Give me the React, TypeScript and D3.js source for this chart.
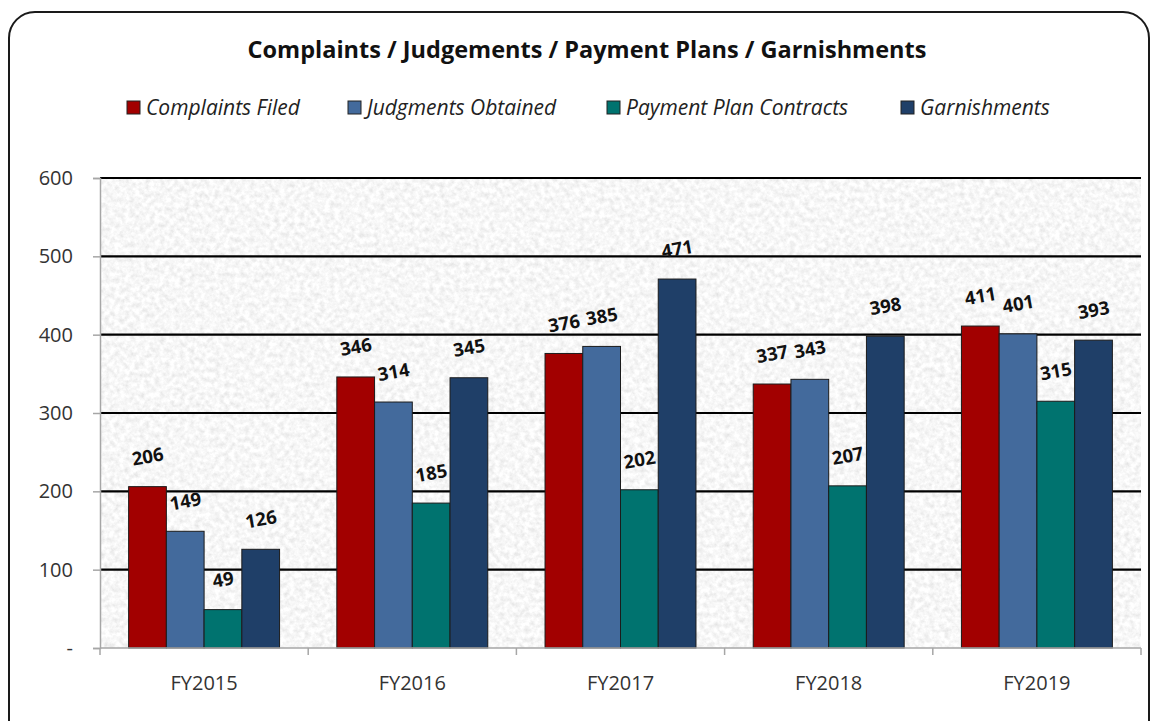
import React, { useEffect, useRef } from 'react';
import * as d3 from 'd3';

const years = ['FY2015', 'FY2016', 'FY2017', 'FY2018', 'FY2019'];
const seriesNames = ['Complaints Filed', 'Judgments Obtained', 'Payment Plan Contracts', 'Garnishments'];
const seriesColors = ['#a20000', '#436a9c', '#00736f', '#1f3f68'];
const complaints = [206, 346, 376, 337, 411];
const judgments = [149, 314, 385, 343, 401];
const paymentPlans = [49, 185, 202, 207, 315];
const garnishments = [126, 345, 471, 398, 393];
const yTicks = [0, 100, 200, 300, 400, 500, 600];

const W = 1158;
const H = 721;
const FONT = '"Open Sans", "Noto Sans", sans-serif';

const App: React.FC = () => {
  const svgRef = useRef<SVGSVGElement>(null);

  useEffect(() => {
    document.body.style.margin = '0';
    if (!svgRef.current) return;
    const el = svgRef.current;
    d3.select(el).selectAll('*').remove();
    const svg = d3.select(el);

    const margin = { top: 178, right: 17, bottom: 73, left: 100 };
    const width = W - margin.left - margin.right;
    const height = H - margin.top - margin.bottom;

    // Granite-like texture for the plot area
    const defs = svg.append('defs');
    const filter = defs
      .append('filter')
      .attr('id', 'granite')
      .attr('x', 0)
      .attr('y', 0)
      .attr('width', '100%')
      .attr('height', '100%');
    filter
      .append('feTurbulence')
      .attr('type', 'fractalNoise')
      .attr('baseFrequency', 0.2)
      .attr('numOctaves', 4)
      .attr('seed', 7)
      .attr('result', 'noise');
    filter
      .append('feColorMatrix')
      .attr('in', 'noise')
      .attr('type', 'matrix')
      .attr('values', '0.38 0 0 0 0.74  0.38 0 0 0 0.74  0.38 0 0 0 0.74  0 0 0 0 1');

    // Outer frame
    svg
      .append('rect')
      .attr('x', 9)
      .attr('y', 12)
      .attr('width', 1140)
      .attr('height', 740)
      .attr('rx', 26)
      .attr('fill', '#fff')
      .attr('stroke', '#1a1a1a')
      .attr('stroke-width', 2);

    svg
      .append('text')
      .attr('x', 587)
      .attr('y', 58)
      .attr('text-anchor', 'middle')
      .attr('font-family', FONT)
      .attr('font-weight', 'bold')
      .attr('font-size', 23.5)
      .attr('fill', '#111')
      .text('Complaints / Judgements / Payment Plans / Garnishments');

    // Legend
    const legendX = [127, 348, 607, 901];
    const legend = svg.append('g');
    seriesNames.forEach((name, i) => {
      legend
        .append('rect')
        .attr('x', legendX[i])
        .attr('y', 101)
        .attr('width', 13)
        .attr('height', 13)
        .attr('fill', seriesColors[i])
        .attr('stroke', '#222')
        .attr('stroke-width', 1);
      legend
        .append('text')
        .attr('x', legendX[i] + 19)
        .attr('y', 115)
        .attr('font-family', FONT)
        .attr('font-style', 'italic')
        .attr('font-size', 21)
        .attr('fill', '#222')
        .text(name);
    });

    const g = svg.append('g').attr('transform', `translate(${margin.left},${margin.top})`);

    g.append('rect').attr('width', width).attr('height', height).attr('filter', 'url(#granite)');

    const x0 = d3.scaleBand().domain(years).range([0, width]).paddingInner(0).paddingOuter(0);
    const gap = 0.275;
    const x1 = d3
      .scaleBand()
      .domain(seriesNames)
      .range([x0.bandwidth() * (gap / 2), x0.bandwidth() * (1 - gap / 2)]);
    const y = d3.scaleLinear().domain([0, 600]).range([height, 0]);

    // Gridlines
    g.append('g')
      .selectAll('line')
      .data(yTicks.filter((t) => t > 0))
      .enter()
      .append('line')
      .attr('x1', 0)
      .attr('x2', width)
      .attr('y1', (d) => y(d))
      .attr('y2', (d) => y(d))
      .attr('stroke', '#000')
      .attr('stroke-width', 2.2);

    const allSeries = [complaints, judgments, paymentPlans, garnishments];
    const rows = years.flatMap((yr, yi) =>
      seriesNames.map((s, si) => ({ year: yr, series: s, si, value: allSeries[si][yi] }))
    );

    g.append('g')
      .selectAll('rect')
      .data(rows)
      .enter()
      .append('rect')
      .attr('x', (d) => (x0(d.year) ?? 0) + (x1(d.series) ?? 0))
      .attr('y', (d) => y(d.value))
      .attr('width', x1.bandwidth())
      .attr('height', (d) => height - y(d.value))
      .attr('fill', (d) => seriesColors[d.si])
      .attr('stroke', '#1b1b1b')
      .attr('stroke-width', 1);

    // Value labels (rotated, as in the original)
    g.append('g')
      .selectAll('text')
      .data(rows)
      .enter()
      .append('text')
      .attr('transform', (d) => {
        const cx = (x0(d.year) ?? 0) + (x1(d.series) ?? 0) + x1.bandwidth() / 2;
        const cy = y(d.value) - 31;
        return `translate(${cx},${cy}) rotate(-10)`;
      })
      .attr('text-anchor', 'middle')
      .attr('dominant-baseline', 'central')
      .attr('font-family', FONT)
      .attr('font-weight', 'bold')
      .attr('font-size', 18.5)
      .attr('fill', '#111')
      .text((d) => d.value);

    // Axes
    const yAxis = d3
      .axisLeft(y)
      .tickValues(yTicks)
      .tickSize(7)
      .tickPadding(20)
      .tickFormat((v) => ((v as number) === 0 ? '-' : String(v)));
    g.append('g')
      .call(yAxis)
      .call((a) => a.select('.domain').attr('stroke', '#a6a6a6').attr('stroke-width', 1.5))
      .call((a) => a.selectAll('.tick line').attr('stroke', '#a6a6a6').attr('stroke-width', 1.5))
      .call((a) =>
        a.selectAll('.tick text').attr('fill', '#333').attr('font-size', 20).attr('font-family', FONT)
      );

    const bottom = g.append('g').attr('transform', `translate(0,${height})`);
    bottom
      .append('line')
      .attr('x1', 0)
      .attr('x2', width)
      .attr('stroke', '#a6a6a6')
      .attr('stroke-width', 1.5);
    bottom
      .selectAll('line.tk')
      .data(d3.range(years.length + 1))
      .enter()
      .append('line')
      .attr('class', 'tk')
      .attr('x1', (i) => i * x0.step())
      .attr('x2', (i) => i * x0.step())
      .attr('y1', 0)
      .attr('y2', 7)
      .attr('stroke', '#a6a6a6')
      .attr('stroke-width', 1.5);
    bottom
      .selectAll('text')
      .data(years)
      .enter()
      .append('text')
      .attr('x', (d) => (x0(d) ?? 0) + x0.bandwidth() / 2)
      .attr('y', 42)
      .attr('text-anchor', 'middle')
      .attr('font-family', FONT)
      .attr('font-size', 20)
      .attr('fill', '#333')
      .text((d) => d);
  }, []);

  return <svg ref={svgRef} width={W} height={H} style={{ display: 'block' }} />;
};

export default App;
